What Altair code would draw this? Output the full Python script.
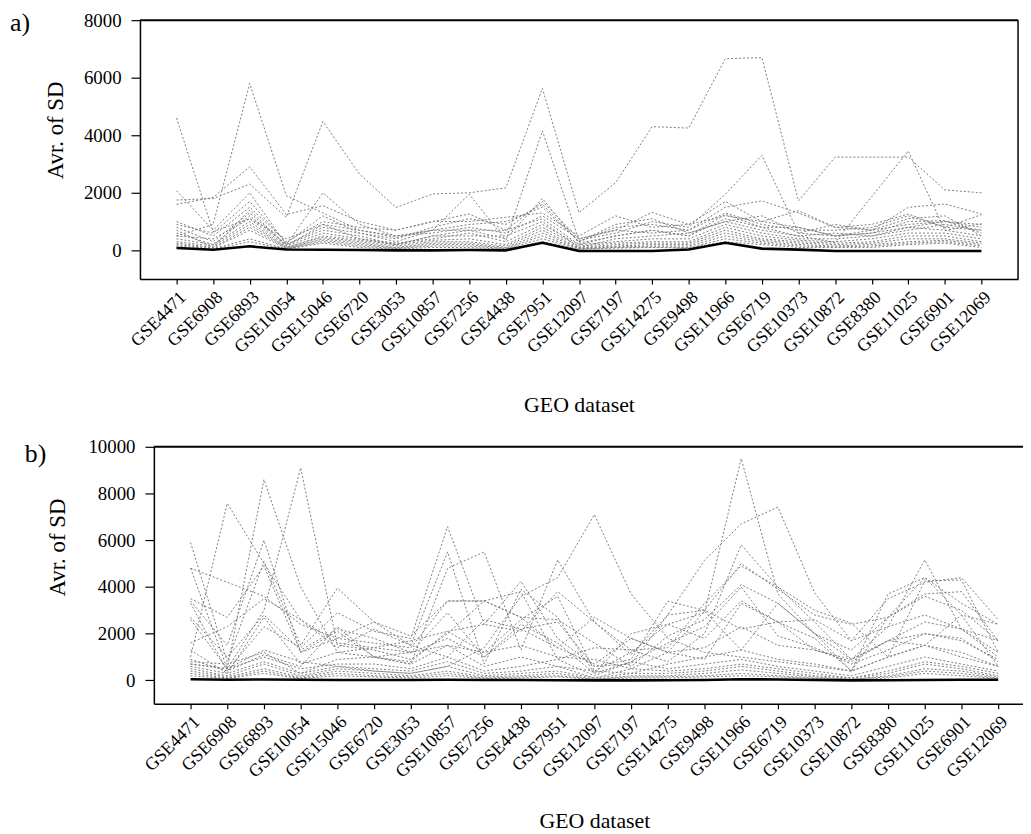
import altair as alt
import pandas as pd

datasets = ["GSE4471", "GSE6908", "GSE6893", "GSE10054", "GSE15046", "GSE6720",
            "GSE3053", "GSE10857", "GSE7256", "GSE4438", "GSE7951", "GSE12097",
            "GSE7197", "GSE14275", "GSE9498", "GSE11966", "GSE6719", "GSE10373",
            "GSE10872", "GSE8380", "GSE11025", "GSE6901", "GSE12069"]

# ---------------- panel a ----------------
a_mean = [80, 20, 140, 30, 20, 10, 0, 0, 10, 0, 265, -20, -20, -20, 30, 265, 60, 25, -20, -20, -20, -20, -20]
a_g01 = [1750, 1800, 2300, 1150, 4480, 2650, 1490, 1960, 2000, 2170, 5630, 1310, 2350, 4300, 4250, 6660, 6700, 1720, 3240, 3240, 3240, 2100, 2000]
a_g02 = [500, 900, 5800, 1900, 1300, 700, 450, 700, 1950, 350, 4150, 350, 600, 1000, 800, 1950, 3300, 600, 500, 700, 900, 1000, 900]
a_g03 = [4600, 650, 1100, 400, 900, 400, 200, 500, 700, 400, 1800, 250, 500, 700, 500, 1250, 800, 500, 280, 1865, 3450, 690, 930]
a_g04 = [1600, 1840, 2900, 1250, 1550, 1000, 700, 1000, 1265, 700, 1700, 400, 700, 1320, 900, 1700, 1000, 800, 500, 600, 800, 1000, 800]
a_g05 = [2070, 700, 2000, 200, 2000, 900, 500, 700, 900, 1000, 1500, 300, 800, 900, 700, 1500, 1720, 1300, 800, 700, 1495, 1610, 1265]
a_g06 = [1000, 500, 1500, 300, 1000, 800, 700, 1000, 1000, 1150, 1300, 500, 1200, 800, 900, 1200, 1000, 1380, 800, 900, 1265, 800, 700]
a_g07 = [800, 300, 1300, 200, 800, 600, 300, 700, 700, 700, 1100, 200, 500, 700, 500, 1100, 800, 800, 500, 600, 1000, 1035, 600]
a_g08 = [600, 200, 1200, 200, 700, 500, 200, 500, 500, 500, 1000, 100, 400, 500, 600, 1000, 700, 500, 600, 500, 700, 900, 700]
a_g09 = [500, 400, 1100, 150, 600, 400, 250, 400, 600, 300, 900, 200, 300, 400, 400, 900, 600, 400, 400, 500, 800, 700, 500]
a_g10 = [400, 200, 1000, 100, 500, 350, 200, 350, 400, 200, 800, 150, 250, 300, 300, 800, 500, 350, 300, 400, 600, 600, 400]
a_g11 = [300, 150, 900, 100, 450, 300, 150, 300, 300, 150, 700, 100, 200, 250, 250, 700, 400, 300, 250, 300, 500, 500, 300]
a_g12 = [250, 100, 800, 80, 400, 250, 100, 250, 250, 100, 600, 80, 150, 200, 200, 600, 350, 250, 200, 250, 400, 400, 250]
a_g13 = [200, 80, 700, 60, 350, 200, 80, 200, 200, 80, 500, 60, 120, 150, 150, 500, 300, 200, 150, 200, 300, 350, 200]
a_g14 = [150, 60, 400, 50, 300, 150, 60, 150, 150, 60, 400, 50, 100, 120, 100, 400, 250, 150, 120, 150, 250, 300, 150]
a_g15 = [100, 40, 300, 40, 250, 100, 40, 100, 100, 40, 300, 40, 80, 100, 80, 300, 200, 100, 100, 100, 200, 250, 100]
a_g16 = [700, 100, 1400, 150, 900, 700, 500, 600, 800, 600, 1200, 400, 700, 600, 700, 1300, 900, 700, 700, 800, 1200, 800, 1240]
a_g17 = [900, 600, 1700, 250, 1200, 600, 400, 800, 1100, 900, 1600, 300, 900, 1100, 600, 1000, 1200, 600, 900, 700, 1100, 1200, 500]
a_grey = [a_g01, a_g02, a_g03, a_g04, a_g05, a_g06, a_g07, a_g08, a_g09, a_g10,
          a_g11, a_g12, a_g13, a_g14, a_g15, a_g16, a_g17]

# ---------------- panel b ----------------
b_mean = [50, 30, 40, 30, 20, 20, 20, 30, 20, 20, 10, 0, 0, 10, 20, 50, 40, 20, 0, 10, 20, 30, 30]
b_g01 = [2600, 500, 3000, 9100, 1500, 1300, 900, 2000, 3400, 2700, 1400, 700, 1800, 1200, 900, 3300, 2500, 1300, 900, 1700, 2500, 2200, 1200]
b_g02 = [4800, 500, 8600, 4000, 1200, 1000, 700, 1500, 1200, 2600, 3600, 400, 1200, 2400, 2900, 9500, 3700, 2000, 400, 2700, 4400, 2800, 600]
b_g03 = [1000, 7580, 5000, 2600, 1600, 1400, 1200, 2900, 1000, 2400, 1600, 300, 800, 1600, 2300, 4000, 1900, 1400, 700, 1300, 2000, 1700, 900]
b_g04 = [700, 500, 1300, 800, 600, 400, 300, 600, 1400, 3600, 4400, 7100, 3700, 1800, 1200, 1000, 800, 600, 400, 1000, 1500, 1000, 600]
b_g05 = [3300, 400, 1100, 600, 2300, 1000, 800, 2100, 2400, 2100, 3800, 2500, 1100, 2800, 5140, 6700, 7420, 3750, 1700, 3500, 4200, 4400, 2600]
b_g06 = [900, 400, 2300, 1400, 2900, 2100, 1800, 6580, 2400, 4240, 1800, 600, 900, 3390, 3000, 5000, 3900, 2800, 2400, 2700, 3700, 3800, 1700]
b_g07 = [3400, 1500, 6000, 1200, 2100, 1000, 700, 4800, 5500, 1300, 5160, 2500, 1300, 800, 2000, 5800, 4000, 2500, 900, 2300, 5160, 2200, 1000]
b_g08 = [4800, 4200, 3600, 2400, 1800, 1600, 1400, 3400, 3400, 2700, 2600, 1600, 600, 1900, 2600, 4100, 3300, 2000, 1300, 2700, 3600, 3000, 1700]
b_g09 = [5900, 800, 5100, 1500, 3950, 2500, 1500, 5500, 700, 3900, 2700, 300, 2000, 2400, 1800, 3400, 2500, 1800, 400, 3700, 4400, 3300, 2400]
b_g10 = [3500, 2700, 4900, 1200, 1800, 2500, 1900, 3400, 3400, 3800, 900, 1400, 1300, 1400, 3300, 4900, 4000, 3000, 2450, 1000, 4260, 4300, 1200]
b_g11 = [1300, 300, 2700, 700, 1200, 1400, 1700, 2100, 1200, 1500, 1000, 900, 500, 1200, 1400, 2300, 1500, 1300, 800, 1700, 2000, 1800, 800]
b_g12 = [800, 700, 1200, 300, 900, 1000, 1200, 1500, 600, 1000, 600, 400, 300, 700, 1000, 1300, 900, 700, 400, 1000, 1500, 1200, 600]
b_g13 = [700, 500, 1000, 500, 700, 700, 500, 1000, 400, 600, 900, 200, 800, 500, 700, 900, 600, 400, 200, 600, 1000, 700, 400]
b_g14 = [600, 300, 800, 300, 600, 500, 400, 800, 300, 400, 600, 100, 500, 400, 500, 700, 500, 300, 100, 400, 800, 600, 300]
b_g15 = [500, 200, 700, 200, 500, 400, 300, 600, 200, 300, 400, 100, 300, 300, 400, 600, 400, 200, 100, 300, 700, 500, 200]
b_g16 = [400, 150, 500, 150, 400, 300, 200, 400, 150, 200, 300, 50, 200, 200, 300, 450, 300, 150, 50, 200, 500, 400, 150]
b_g17 = [300, 100, 400, 100, 300, 200, 150, 300, 100, 150, 200, 50, 150, 150, 200, 300, 200, 100, 50, 150, 400, 300, 100]
b_g18 = [200, 80, 300, 80, 200, 150, 100, 200, 80, 100, 150, 30, 100, 100, 150, 200, 150, 80, 30, 100, 300, 200, 80]
b_g19 = [2700, 1000, 2800, 1300, 2200, 1800, 1200, 1800, 1000, 2200, 2500, 600, 700, 2800, 3000, 2200, 2500, 2600, 1700, 2300, 2800, 2200, 1700]
b_g20 = [1600, 2300, 3500, 2600, 1400, 2190, 1500, 1000, 2600, 2200, 1400, 2700, 1800, 1200, 2965, 1300, 3300, 2000, 900, 1700, 1500, 2800, 2400]
b_grey = [b_g01, b_g02, b_g03, b_g04, b_g05, b_g06, b_g07, b_g08, b_g09, b_g10,
          b_g11, b_g12, b_g13, b_g14, b_g15, b_g16, b_g17, b_g18, b_g19, b_g20]

a_ticks = [0, 2000, 4000, 6000, 8000]
b_ticks = [0, 2000, 4000, 6000, 8000, 10000]

FONT = "Liberation Serif"
W, H = 890, 817          # whole drawing area (page x 141..1031, y 17..834)


def long_frame(grey, mean):
    rows = []
    for k, s in enumerate(grey):
        for d, v in zip(datasets, s):
            rows.append({"dataset": d, "series": f"s{k:02d}", "value": v})
    grey_df = pd.DataFrame(rows)
    mean_df = pd.DataFrame({"dataset": datasets, "series": "mean", "value": mean})
    return grey_df, mean_df


def panel(grey, mean, label, ydom, yticks, x0, x1, ytop, ybot,
          ytitle_x, ytitle_y, xtitle_y, lab_x, lab_y, frame_right):
    grey_df, mean_df = long_frame(grey, mean)
    x = alt.X("dataset:N", sort=datasets,
              scale=alt.Scale(type="point", padding=1, range=[x0, x1]),
              axis=alt.Axis(title="GEO dataset", orient="bottom", offset=-(H - ybot),
                            labelAngle=-45, labelFontSize=18, tickSize=5, labelPadding=4,
                            titleFontSize=22, titleY=xtitle_y, titleBaseline="alphabetic"))
    y = alt.Y("value:Q",
              scale=alt.Scale(domain=ydom, nice=False, zero=False, range=[ybot, ytop]),
              axis=alt.Axis(title="Avr. of SD", orient="left", offset=-x0, values=yticks,
                            format="d", labelFontSize=19, tickSize=9, labelPadding=10,
                            titleFontSize=23, titleX=ytitle_x, titleY=ytitle_y,
                            titleBaseline="alphabetic", grid=False))
    grey_l = alt.Chart(grey_df).mark_line(
        color="#7c7c7c", strokeWidth=1, strokeDash=[2, 2]
    ).encode(x=x, y=y, detail="series:N")
    mean_l = alt.Chart(mean_df).mark_line(color="black", strokeWidth=2.6).encode(x=x, y=y)
    lab_df = pd.DataFrame({"t": [label]})
    lab = alt.Chart(lab_df).mark_text(
        align="left", baseline="alphabetic", font=FONT, fontSize=26, color="black"
    ).encode(text="t:N", x=alt.value(lab_x), y=alt.value(lab_y))
    top = alt.Chart(lab_df).mark_rule(color="black", strokeWidth=2).encode(
        y=alt.datum(ydom[1]), x=alt.value(x0), x2=alt.value(min(x1, W)))
    layers = [grey_l, mean_l, top, lab]
    if frame_right:
        right = alt.Chart(lab_df).mark_rule(color="black", strokeWidth=1.5).encode(
            x=alt.value(x1), y=alt.datum(ydom[1]), y2=alt.datum(ydom[0]))
        layers.append(right)
    return alt.layer(*layers)


pa = panel(a_grey, a_mean, "a)", [-1000, 8000], a_ticks, 0, 885, 0, 261,
           -78, 110.6, 133, -131, 11, True)
pb = panel(b_grey, b_mean, "b)", [-1000, 10000], b_ticks, 14, 902, 430, 689,
           -90, 531, 125, -116, 445, False)

chart = alt.layer(pa, pb).resolve_scale(
    x="independent", y="independent"
).properties(
    width=W, height=H,
    autosize=alt.AutoSizeParams(type="none"),
    padding={"left": 133, "top": 9, "right": 0, "bottom": 0},
).configure_view(
    stroke="transparent"
).configure_axis(
    domainColor="black", domainWidth=1.5, tickColor="black", tickWidth=1.2,
    labelColor="black", titleColor="black", labelFont=FONT, titleFont=FONT,
    titleFontWeight="normal"
)

chart.save("out.html", embed_options={"renderer": "svg", "actions": False})
